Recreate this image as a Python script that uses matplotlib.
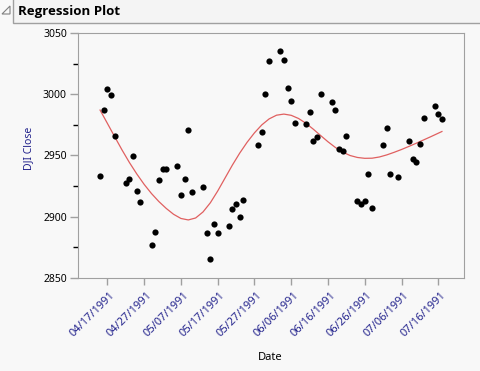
import numpy as np
import pandas as pd
import matplotlib
matplotlib.use("Agg")
import matplotlib.pyplot as plt
import matplotlib.transforms as mtransforms
from matplotlib.ticker import MultipleLocator

plt.rcParams['font.family'] = ['Noto Sans', 'DejaVu Sans']

# trading days
dates = ['1991-04-15', '1991-04-16', '1991-04-17', '1991-04-18', '1991-04-19',
         '1991-04-22', '1991-04-23', '1991-04-24', '1991-04-25', '1991-04-26',
         '1991-04-29', '1991-04-30', '1991-05-01', '1991-05-02', '1991-05-03',
         '1991-05-06', '1991-05-07', '1991-05-08', '1991-05-09', '1991-05-10',
         '1991-05-13', '1991-05-14', '1991-05-15', '1991-05-16', '1991-05-17',
         '1991-05-20', '1991-05-21', '1991-05-22', '1991-05-23', '1991-05-24',
         '1991-05-28', '1991-05-29', '1991-05-30', '1991-05-31',
         '1991-06-03', '1991-06-04', '1991-06-05', '1991-06-06', '1991-06-07',
         '1991-06-10', '1991-06-11', '1991-06-12', '1991-06-13', '1991-06-14',
         '1991-06-17', '1991-06-18', '1991-06-19', '1991-06-20', '1991-06-21',
         '1991-06-24', '1991-06-25', '1991-06-26', '1991-06-27', '1991-06-28',
         '1991-07-01', '1991-07-02', '1991-07-03', '1991-07-05',
         '1991-07-08', '1991-07-09', '1991-07-10', '1991-07-11', '1991-07-12',
         '1991-07-15', '1991-07-16', '1991-07-17']

close = [2933.3, 2987.1, 3004.3, 2999.4, 2965.9,
         2927.6, 2930.8, 2949.6, 2921.0, 2912.0,
         2876.9, 2887.6, 2930.0, 2939.0, 2939.0,
         2941.4, 2917.8, 2930.8, 2970.8, 2920.2,
         2924.3, 2886.7, 2865.5, 2894.1, 2886.7,
         2892.4, 2906.3, 2910.4, 2899.8, 2913.7,
         2958.6, 2969.2, 3000.2, 3027.1,
         3035.3, 3028.0, 3005.1, 2994.5, 2976.5,
         2975.7, 2985.5, 2961.8, 2965.1, 3000.2,
         2993.7, 2987.1, 2955.3, 2953.7, 2965.9,
         2912.9, 2910.4, 2912.9, 2934.9, 2907.1,
         2958.6, 2972.4, 2934.9, 2932.4,
         2961.8, 2947.1, 2944.7, 2959.4, 2980.6,
         2990.4, 2983.9, 2979.8]

# red regression curve, every two days
fit_dates = ['1991-04-15', '1991-04-17', '1991-04-19', '1991-04-21', '1991-04-23',
             '1991-04-25', '1991-04-27', '1991-04-29', '1991-05-01', '1991-05-03',
             '1991-05-05', '1991-05-07', '1991-05-09', '1991-05-11', '1991-05-13',
             '1991-05-15', '1991-05-17', '1991-05-19', '1991-05-21', '1991-05-23',
             '1991-05-25', '1991-05-27', '1991-05-29', '1991-05-31', '1991-06-02',
             '1991-06-04', '1991-06-06', '1991-06-08', '1991-06-10', '1991-06-12',
             '1991-06-14', '1991-06-16', '1991-06-18', '1991-06-20', '1991-06-22',
             '1991-06-24', '1991-06-26', '1991-06-28', '1991-06-30', '1991-07-02',
             '1991-07-04', '1991-07-06', '1991-07-08', '1991-07-10', '1991-07-12',
             '1991-07-14', '1991-07-16', '1991-07-17']
fit_close = [2987.1, 2976.2, 2965.2, 2954.4, 2944.2,
             2934.9, 2926.4, 2918.9, 2912.4, 2906.8,
             2902.0, 2898.6, 2897.4, 2899.0, 2903.9,
             2911.4, 2921.0, 2931.6, 2942.2, 2952.0,
             2960.8, 2968.5, 2975.0, 2979.9, 2982.9,
             2983.8, 2982.8, 2980.2, 2976.3, 2971.5,
             2966.3, 2961.2, 2956.6, 2952.8, 2950.0,
             2948.4, 2947.7, 2947.8, 2948.8, 2950.5,
             2952.6, 2954.9, 2957.4, 2960.0, 2962.7,
             2965.4, 2968.2, 2969.6]

tick_dates = ['1991-04-17', '1991-04-27', '1991-05-07', '1991-05-17', '1991-05-27',
              '1991-06-06', '1991-06-16', '1991-06-26', '1991-07-06', '1991-07-16']

df = pd.DataFrame({'Date': pd.to_datetime(dates), 'Close': close})
fit = pd.DataFrame({'Date': pd.to_datetime(fit_dates), 'Close': fit_close})

bg = '#f8f8f8'
grey = '#a0a0a0'
navy = '#22228c'

fig = plt.figure(figsize=(4.81, 3.71), dpi=100, facecolor=bg)

# header bar
fig.patches.append(plt.Rectangle((13 / 481, 1 - 23 / 371), 1.0, 0.2, transform=fig.transFigure,
                                 facecolor='#f4f4f4', edgecolor=grey, lw=1))
fig.patches.append(plt.Polygon([(10 / 481, 1 - 6 / 371), (10 / 481, 1 - 14 / 371), (2 / 481, 1 - 14 / 371)],
                               closed=True, transform=fig.transFigure,
                               facecolor='none', edgecolor='#808080', lw=0.8))
fig.text(18 / 481, 1 - 12 / 371, 'Regression Plot', fontsize=9.5, fontweight='bold',
         family='Open Sans', ha='left', va='center', color='black')

ax = fig.add_axes([78 / 481, 1 - 278 / 371, 386 / 481, 245 / 371], facecolor=bg)
ax.plot(fit['Date'], fit['Close'], color='#e06060', lw=0.9, zorder=2,
        solid_joinstyle='round')
ax.scatter(df['Date'], df['Close'], s=20, color='black', zorder=3, linewidths=0)

ax.set_xlim(pd.Timestamp('1991-04-09'), pd.Timestamp('1991-07-23'))
ax.set_ylim(2850, 3050)
ax.yaxis.set_major_locator(MultipleLocator(50))
ax.yaxis.set_minor_locator(MultipleLocator(25))
ax.set_xticks(pd.to_datetime(tick_dates))
ax.set_xticklabels([pd.Timestamp(d).strftime('%m/%d/%Y') for d in tick_dates])

for s in ax.spines.values():
    s.set_color(grey)
ax.tick_params(axis='both', colors=grey, direction='out')
ax.tick_params(axis='y', which='major', length=6, width=1, pad=2, labelsize=7.5, labelcolor='black')
ax.tick_params(axis='y', which='minor', length=3.5, width=1)
ax.tick_params(axis='x', length=5, width=1, pad=6, labelsize=8, labelcolor=navy)

offset = mtransforms.ScaledTranslation(6 / 100, 0, fig.dpi_scale_trans)
for lab in ax.get_xticklabels():
    lab.set_rotation(45)
    lab.set_ha('right')
    lab.set_va('center')
    lab.set_rotation_mode('anchor')
    lab.set_transform(lab.get_transform() + offset)

ax.set_ylabel('DJI Close', fontsize=7.5, color=navy)
ax.yaxis.set_label_coords(-0.115, 0.53)
fig.text(270 / 481, 1 - 358 / 371, 'Date', fontsize=8, ha='center', va='center', color='black')

fig.savefig('out.png', dpi=100, facecolor=bg)
